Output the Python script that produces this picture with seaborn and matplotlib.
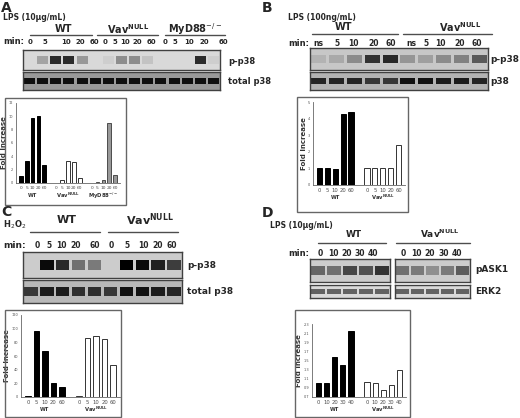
import numpy as np
import matplotlib
matplotlib.use("Agg")
import matplotlib.pyplot as plt
import pandas as pd
import seaborn as sns

sns.set_style("white")
plt.rcParams['font.family'] = ['DejaVu Sans']

# bar values
a_times = ["0", "5", "10", "20", "60"]
a_wt = [1.0, 3.3, 9.8, 10.0, 2.7]
a_vav = [0.05, 0.5, 3.3, 3.1, 0.7]
a_myd = [0.05, 0.2, 0.5, 9.0, 1.2]
b_wt = [1.0, 1.05, 0.95, 4.3, 4.4]
b_vav = [1.0, 1.0, 1.0, 1.0, 2.4]
c_wt = [1.0, 97, 67, 21, 14]
c_vav = [1.0, 87, 89, 85, 47]
d_times = ["0", "10", "20", "30", "40"]
d_wt = [1.0, 1.0, 1.58, 1.4, 2.15]
d_vav = [1.02, 1.0, 0.85, 0.97, 1.3]

# blot band intensities (0..1), estimated by eye
a_pp38 = [0.0, 0.25, 0.8, 0.8, 0.3, 0.0, 0.05, 0.35, 0.35, 0.1, 0.0, 0.0, 0.0, 0.8, 0.05]
a_tot = [0.9] * 15
b_lanes = ["ns", "5", "10", "20", "60", "ns", "5", "10", "20", "60"]
b_pp38 = [0.1, 0.15, 0.3, 0.75, 0.8, 0.25, 0.2, 0.3, 0.35, 0.55]
b_tot = [0.8, 0.8, 0.8, 0.7, 0.7, 0.9, 0.9, 0.85, 0.85, 0.8]
c_pp38 = [0.0, 0.95, 0.8, 0.45, 0.4, 0.0, 1.0, 0.95, 0.85, 0.7]
c_tot = [0.7, 0.85, 0.85, 0.75, 0.75, 0.7, 0.9, 0.9, 0.85, 0.8]
d_ask_wt = [0.5, 0.45, 0.65, 0.6, 0.75]
d_ask_vav = [0.45, 0.4, 0.3, 0.4, 0.55]
d_erk = [0.55] * 5

W, H = 520, 418
fig = plt.figure(figsize=(W / 100, H / 100), dpi=100)


def rect(x, y, w, h):
    return [x / W, 1 - (y + h) / H, w / W, h / H]


def txt(x, y, s, fs, **kw):
    fig.text(x / W, 1 - y / H, s, fontsize=fs, weight="bold", va="center", **kw)


def hline(x0, x1, y):
    fig.add_artist(plt.Line2D([x0 / W, x1 / W], [1 - y / H] * 2, color="0.3", lw=1.0))


def blot(x, y, w, h, vals, bg=0.8):
    ax = fig.add_axes(rect(x, y, w, h))
    n = len(vals)
    ax.set_xlim(0, n)
    ax.set_ylim(0, 1)
    ax.set_facecolor(str(bg))
    for i, v in enumerate(vals):
        ax.fill_between([i + 0.08, i + 0.92], 0.32, 0.68, color=str((1 - v) * bg), lw=0)
    ax.set_xticks([])
    ax.set_yticks([])
    for s in ax.spines.values():
        s.set_color("0.25")
        s.set_linewidth(1.0)
    return ax


def chart(frame, axr, groups, times, yticks, fmt, colors, labels, xfs=3.8):
    fx, fy, fw, fh = frame
    fig.add_artist(plt.Rectangle((fx / W, 1 - (fy + fh) / H), fw / W, fh / H, fill=False,
                                 ec="0.4", lw=1.0, transform=fig.transFigure))
    ax = fig.add_axes(rect(*axr))
    rows = []
    xt = []
    k = 0
    for gi, g in enumerate(groups):
        for ti, v in enumerate(g):
            rows.append(dict(pos=k, val=v, grp=gi))
            xt.append(times[ti])
            k += 1
        if gi < len(groups) - 1:
            xt.append("")
            k += 1
    df = pd.DataFrame(rows)
    for gi in range(len(groups)):
        sub = df[df.grp == gi]
        fc, ec = colors[gi]
        ax.bar(sub.pos, sub.val, width=0.65, color=fc, edgecolor=ec, lw=0.7)
    ax.set_xlim(-0.8, k - 0.2)
    ax.set_ylim(yticks[0], yticks[-1])
    ax.set_yticks(yticks)
    ax.set_yticklabels([fmt.format(t) for t in yticks], fontsize=2.5, color="0.3")
    ax.set_xticks(range(k))
    ax.set_xticklabels(xt, fontsize=xfs, color="0.3")
    ax.tick_params(length=1, pad=1)
    ax.set_ylabel("Fold Increase", fontsize=5, labelpad=1, weight="bold", color="0.2")
    sns.despine(ax=ax)
    for s in ["left", "bottom"]:
        ax.spines[s].set_color("0.4")
        ax.spines[s].set_linewidth(0.6)
    n = len(times)
    for gi, lab in enumerate(labels):
        c = gi * (n + 1) + (n - 1) / 2
        ax.annotate(lab, (c, 0), xycoords=("data", "axes fraction"), xytext=(0, -9),
                    textcoords="offset points", ha="center", va="center", fontsize=3.8,
                    weight="bold", color="0.2")
    return ax


black = ("black", "black")
white = ("white", "0.2")
grey = ("0.6", "0.3")
VAV = "Vav$^{\\mathregular{NULL}}$"

# Panel A
txt(1, 8, "A", 10)
txt(3, 18, "LPS (10µg/mL)", 5.5)
for cx, lab, x0, x1 in [(63, "WT", 30, 92), (128, VAV, 97, 158), (195, "MyD88$^{-/-}$", 165, 225)]:
    txt(cx, 29, lab, 7, ha="center")
    hline(x0, x1, 35)
txt(3, 42, "min:", 6)
a_x = [30, 45, 66, 80, 94, 105, 115, 125, 137, 151, 165, 175, 189, 204, 223]
for xx, t in zip(a_x, a_times * 3):
    txt(xx, 42, t, 5, ha="center")
blot(23, 50, 197, 20, a_pp38, bg=0.85)
blot(23, 72, 197, 18, a_tot, bg=0.6)
txt(228, 61, "p-p38", 6)
txt(228, 81, "total p38", 6)
chart((5, 98, 121, 107), (16, 103, 104, 80), [a_wt, a_vav, a_myd], a_times,
      [0, 2, 4, 6, 8, 10, 12], "{:g}", [black, white, grey], ["WT", VAV, "MyD88$^{-/-}$"], xfs=3.2)

# Panel B
txt(262, 8, "B", 10)
txt(288, 18, "LPS (100ng/mL)", 5.5)
for cx, lab, x0, x1 in [(343, "WT", 312, 398), (460, VAV, 403, 492)]:
    txt(cx, 27, lab, 7, ha="center")
    hline(x0, x1, 34)
txt(288, 43, "min:", 6)
b_x = [318, 337, 353, 374, 391, 411, 426, 440, 460, 477]
for xx, t in zip(b_x, b_lanes):
    txt(xx, 44, t, 5.5, ha="center")
blot(310, 48, 178, 22, b_pp38, bg=0.78)
blot(310, 72, 178, 18, b_tot, bg=0.7)
txt(490, 59, "p-p38", 6.5)
txt(490, 81, "p38", 6.5)
chart((297, 97, 111, 115), (313, 102, 92, 83), [b_wt, b_vav], a_times,
      [0, 1, 2, 3, 4, 5], "{:g}", [black, white], ["WT", VAV])

# Panel C
txt(1, 212, "C", 10)
txt(3, 225, "H$_2$O$_2$", 6)
for cx, lab, x0, x1 in [(67, "WT", 30, 100), (150, "Vav$^{\\mathregular{ NULL}}$", 108, 178)]:
    txt(cx, 220, lab, 8, ha="center")
    hline(x0, x1, 232)
txt(3, 245, "min:", 6.5)
c_x = [37, 49, 61, 76, 95, 111, 127, 143, 158, 172]
for xx, t in zip(c_x, a_times * 2):
    txt(xx, 245, t, 5.5, ha="center")
blot(23, 252, 159, 26, c_pp38, bg=0.8)
blot(23, 280, 159, 23, c_tot, bg=0.72)
txt(187, 265, "p-p38", 6.5)
txt(187, 292, "total p38", 6.5)
chart((5, 310, 116, 107), (21, 315, 99, 82), [c_wt, c_vav], a_times,
      [0, 20, 40, 60, 80, 100, 120], "{:g}", [black, white], ["WT", VAV])

# Panel D
txt(262, 213, "D", 10)
txt(270, 225, "LPS (10µg/mL)", 5.5)
for cx, lab, x0, x1 in [(354, "WT", 318, 386), (440, VAV, 396, 470)]:
    txt(cx, 234, lab, 6.5, ha="center")
    hline(x0, x1, 243)
txt(288, 253, "min:", 6)
for i, t in enumerate(d_times):
    txt(320 + i * 13.3, 254, t, 5.5, ha="center")
    txt(403 + i * 13.5, 254, t, 5.5, ha="center")
blot(310, 259, 80, 23, d_ask_wt, bg=0.8)
blot(395, 259, 75, 23, d_ask_vav, bg=0.8)
blot(310, 285, 80, 13, d_erk, bg=0.85)
blot(395, 285, 75, 13, d_erk, bg=0.85)
txt(475, 270, "pASK1", 6.5)
txt(475, 291, "ERK2", 6.5)
chart((295, 310, 115, 107), (312, 324, 94, 73), [d_wt, d_vav], d_times,
      [0.7, 0.9, 1.1, 1.3, 1.5, 1.7, 1.9, 2.1, 2.3], "{:.1f}", [black, white], ["WT", VAV])

fig.savefig("out.png", dpi=100)
